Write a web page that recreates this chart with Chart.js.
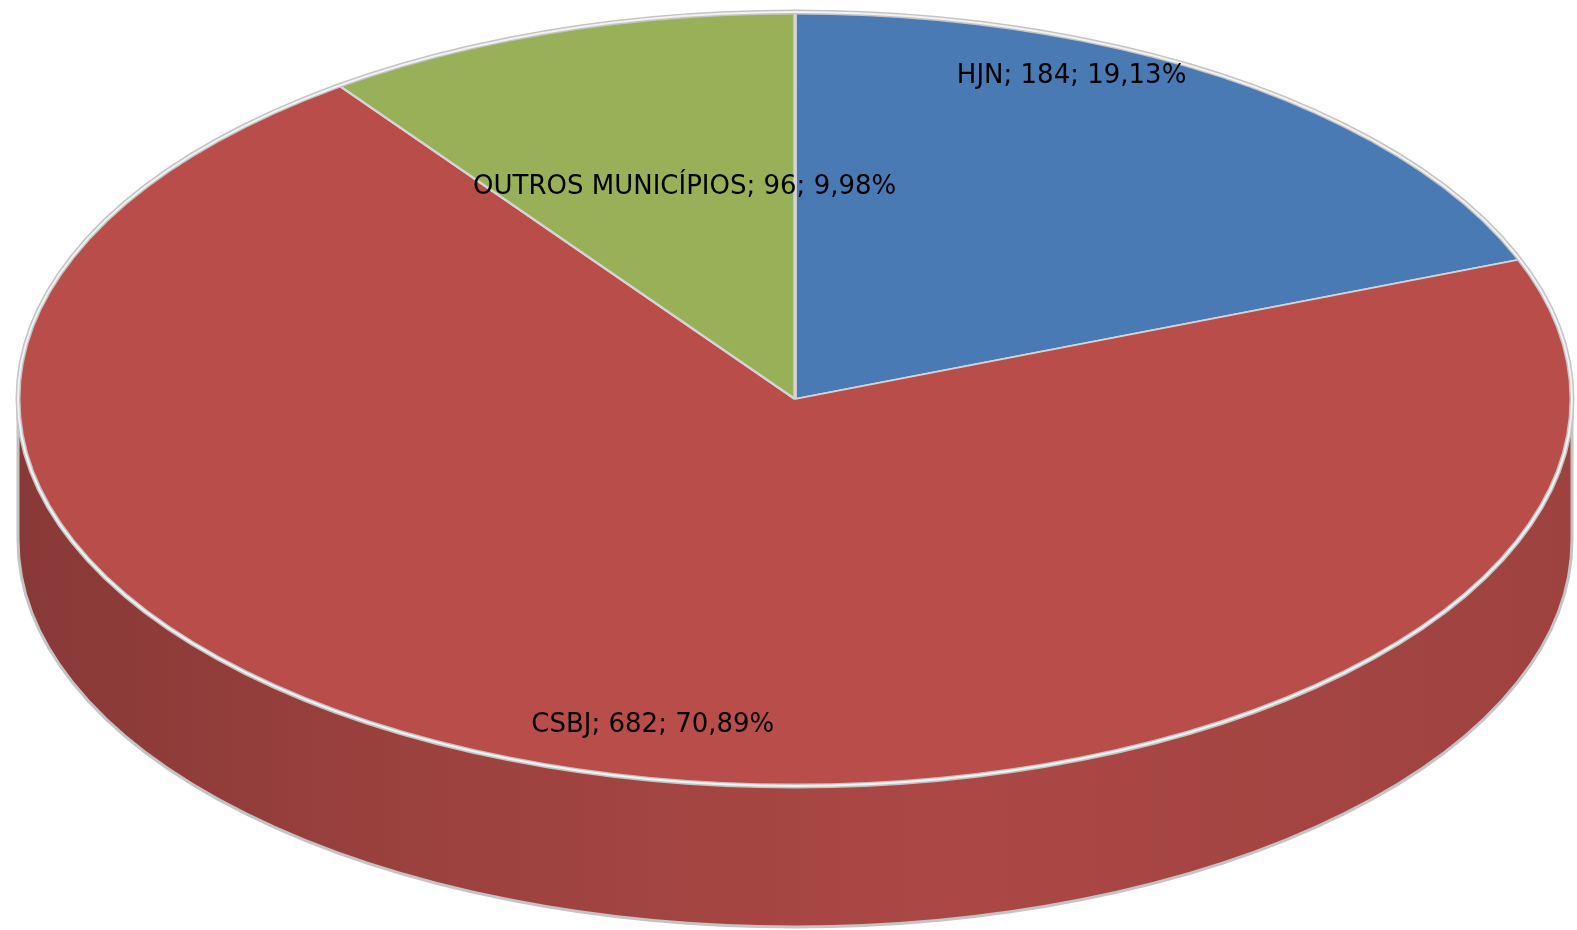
<!DOCTYPE html>
<html lang="pt">
<head>
<meta charset="UTF-8">
<title>Pie</title>
<script src="https://cdn.jsdelivr.net/npm/chart.js"></script>
<style>
  html, body { margin: 0; padding: 0; background: #fff; overflow: hidden; }
  #wrap { width: 1577px; height: 930px; }
</style>
</head>
<body>
<div id="wrap"><canvas id="pie"></canvas></div>
<script>
// data
const labels = ['HJN', 'CSBJ', 'OUTROS MUNICÍPIOS'];
const counts = [184, 682, 96];
const colors = ['#4A7AB4', '#B84D4A', '#98B058'];

// label anchors, in ellipse-normalised coords (-1..1)
const labelPos = [[0.356, -0.834], [-0.183, 0.842], [-0.142, -0.548]];

const total = counts.reduce((a, b) => a + b, 0);

// where the flattened pie sits on the canvas
const geo = { cx: 795, cy: 399, rx: 777, ry: 387, depth: 141 };

function shade(hex, f) {
  const n = parseInt(hex.slice(1), 16);
  const r = Math.round(((n >> 16) & 255) * f);
  const g = Math.round(((n >> 8) & 255) * f);
  const b = Math.round((n & 255) * f);
  return `rgb(${r},${g},${b})`;
}

const flatPie = {
  id: 'flatPie',
  beforeDatasetsDraw(chart) {
    const ctx = chart.ctx;
    const meta = chart.getDatasetMeta(0);
    const a0 = meta.data[0];
    const { cx, cy, rx, ry, depth } = geo;

    // side wall (front half only)
    meta.data.forEach((arc, i) => {
      const s = Math.max(arc.startAngle, 0);
      const e = Math.min(arc.endAngle, Math.PI);
      if (e <= s) return;
      const grad = ctx.createLinearGradient(cx - rx, 0, cx + rx, 0);
      grad.addColorStop(0, shade(colors[i], 0.74));
      grad.addColorStop(0.25, shade(colors[i], 0.84));
      grad.addColorStop(0.6, shade(colors[i], 0.93));
      grad.addColorStop(1, shade(colors[i], 0.86));
      ctx.save();
      ctx.beginPath();
      ctx.ellipse(cx, cy, rx, ry, 0, s, e);
      ctx.ellipse(cx, cy + depth, rx, ry, 0, e, s, true);
      ctx.closePath();
      ctx.fillStyle = grad;
      ctx.fill();
      ctx.lineWidth = 3;
      ctx.strokeStyle = '#C4C4C4';
      ctx.stroke();
      ctx.restore();
    });

    ctx.save();
    ctx.translate(cx, cy);
    ctx.scale(rx / a0.outerRadius, ry / a0.outerRadius);
    ctx.translate(-a0.x, -a0.y);
  },
  afterDatasetsDraw(chart) {
    const ctx = chart.ctx;
    ctx.restore();
    const { cx, cy, rx, ry } = geo;

    // rim of the top face
    ctx.save();
    ctx.beginPath();
    ctx.ellipse(cx, cy, rx, ry, 0, 0, Math.PI * 2);
    ctx.lineWidth = 5;
    ctx.strokeStyle = '#C4C4C4';
    ctx.stroke();
    ctx.lineWidth = 2;
    ctx.strokeStyle = '#F2F2F2';
    ctx.stroke();
    ctx.restore();

    // data labels
    ctx.save();
    ctx.font = '26px "DejaVu Sans"';
    ctx.fillStyle = '#000';
    ctx.textAlign = 'center';
    ctx.textBaseline = 'middle';
    counts.forEach((v, i) => {
      const pct = (v / total * 100).toFixed(2).replace('.', ',');
      const txt = `${labels[i]}; ${v}; ${pct}%`;
      ctx.fillText(txt, cx + labelPos[i][0] * rx, cy + labelPos[i][1] * ry);
    });
    ctx.restore();
  }
};

new Chart(document.getElementById('pie'), {
  type: 'pie',
  data: {
    labels: labels,
    datasets: [{
      data: counts,
      backgroundColor: colors,
      borderColor: '#D4D4D4',
      borderWidth: 2
    }]
  },
  options: {
    responsive: true,
    maintainAspectRatio: false,
    animation: false,
    layout: { padding: 0 },
    plugins: {
      legend: { display: false },
      tooltip: { enabled: false }
    }
  },
  plugins: [flatPie]
});
</script>
</body>
</html>
